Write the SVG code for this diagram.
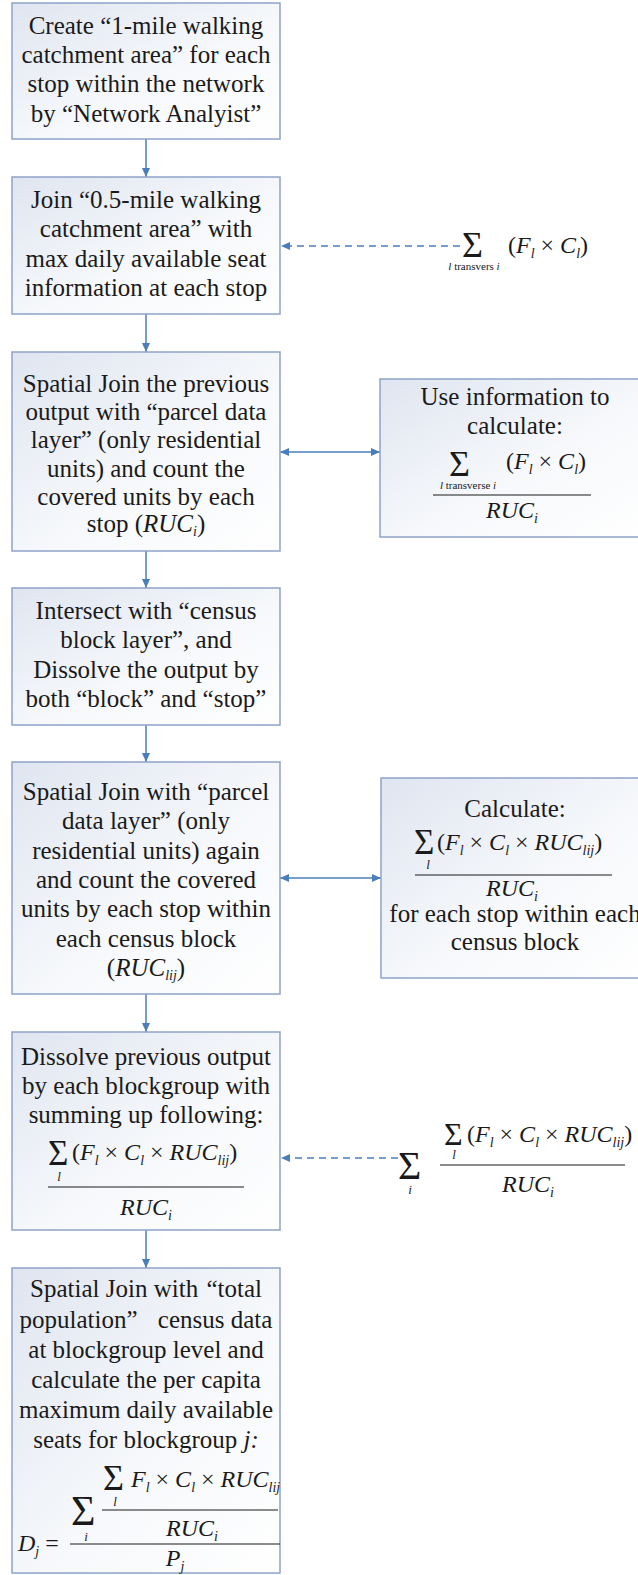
<svg xmlns="http://www.w3.org/2000/svg" width="638" height="1575" viewBox="0 0 638 1575">
  <defs>
    <linearGradient id="boxFill" x1="0" y1="0" x2="1" y2="1">
      <stop offset="0" stop-color="#dfe5f0"/>
      <stop offset="0.55" stop-color="#f6f8fb"/>
      <stop offset="1" stop-color="#ffffff"/>
    </linearGradient>
    <marker id="head" markerWidth="10" markerHeight="10" refX="9" refY="5" orient="auto-start-reverse" markerUnits="userSpaceOnUse">
      <path d="M0,1 L9,5 L0,9 Z" fill="#4a7ebb"/>
    </marker>
    <style>
      .box { fill: url(#boxFill); stroke: #8ea3c7; stroke-width: 1.5; }
      text { font-family: 'Liberation Serif', 'Times New Roman', serif; fill: #1a1a1a; }
      .t { font-size: 25px; text-anchor: middle; }
      .m { font-size: 24px; }
      .i { font-style: italic; }
      .s { font-size: 14px; font-style: italic; }
      .u { font-size: 13px; font-style: italic; text-anchor: middle; }
      .lim { font-size: 11px; text-anchor: middle; }
      .bar { stroke: #1a1a1a; stroke-width: 1.2; }
      .c { stroke: #4a7ebb; stroke-width: 1.5; fill: none; }
      .d { stroke-dasharray: 7 5; }
    </style>
  </defs>

  <!-- flow connectors -->
  <g id="connectors">
    <line class="c" x1="146" y1="139" x2="146" y2="177" marker-end="url(#head)"/>
    <line class="c" x1="146" y1="314" x2="146" y2="352" marker-end="url(#head)"/>
    <line class="c" x1="146" y1="551" x2="146" y2="588" marker-end="url(#head)"/>
    <line class="c" x1="146" y1="725" x2="146" y2="762" marker-end="url(#head)"/>
    <line class="c" x1="146" y1="994" x2="146" y2="1032" marker-end="url(#head)"/>
    <line class="c" x1="146" y1="1230" x2="146" y2="1268" marker-end="url(#head)"/>
    <line class="c" x1="280" y1="452" x2="380" y2="452" marker-start="url(#head)" marker-end="url(#head)"/>
    <line class="c" x1="280" y1="878" x2="381" y2="878" marker-start="url(#head)" marker-end="url(#head)"/>
    <line class="c d" x1="460" y1="246" x2="281" y2="246" marker-end="url(#head)"/>
    <line class="c d" x1="398" y1="1158" x2="281" y2="1158" marker-end="url(#head)"/>
  </g>

  <!-- step 1 -->
  <g id="step1">
    <rect class="box" x="12" y="3" width="268" height="136"/>
    <text class="t" x="146" y="34">Create “1-mile walking</text>
    <text class="t" x="146" y="63">catchment area” for each</text>
    <text class="t" x="146" y="92">stop within the network</text>
    <text class="t" x="146" y="122">by “Network Analyist”</text>
  </g>

  <!-- step 2 -->
  <g id="step2">
    <rect class="box" x="12" y="177" width="268" height="137"/>
    <text class="t" x="146" y="208">Join “0.5-mile walking</text>
    <text class="t" x="146" y="237">catchment area” with</text>
    <text class="t" x="146" y="267">max daily available seat</text>
    <text class="t" x="146" y="296">information at each stop</text>
  </g>

  <!-- seats summed over lines through stop i -->
  <g id="seatSum">
    <text x="462" y="257" font-size="36">Σ</text>
    <text class="m" x="508" y="253">(<tspan class="i">F</tspan><tspan class="s" dy="5">l</tspan><tspan dy="-5"> × </tspan><tspan class="i">C</tspan><tspan class="s" dy="5">l</tspan><tspan dy="-5">)</tspan></text>
    <text class="lim" x="474" y="270"><tspan class="i">l</tspan> transvers <tspan class="i">i</tspan></text>
  </g>

  <!-- step 3 -->
  <g id="step3">
    <rect class="box" x="12" y="352" width="268" height="199"/>
    <text class="t" x="146" y="392">Spatial Join the previous</text>
    <text class="t" x="146" y="420">output with “parcel data</text>
    <text class="t" x="146" y="448">layer” (only residential</text>
    <text class="t" x="146" y="477">units) and count the</text>
    <text class="t" x="146" y="505">covered units by each</text>
    <text class="t" x="146" y="532">stop (<tspan class="i">RUC</tspan><tspan class="s" dy="4">i</tspan><tspan dy="-4">)</tspan></text>
  </g>

  <!-- seats per residential unit at each stop -->
  <g id="seatsPerUnit">
    <rect class="box" x="380" y="379" width="264" height="158"/>
    <text class="t" x="515" y="405">Use information to</text>
    <text class="t" x="515" y="434">calculate:</text>
    <text x="449" y="476" font-size="36">Σ</text>
    <text class="m" x="506" y="469">(<tspan class="i">F</tspan><tspan class="s" dy="5">l</tspan><tspan dy="-5"> × </tspan><tspan class="i">C</tspan><tspan class="s" dy="5">l</tspan><tspan dy="-5">)</tspan></text>
    <text class="lim" x="468" y="489"><tspan class="i">l</tspan> transverse <tspan class="i">i</tspan></text>
    <line class="bar" x1="433" y1="495" x2="591" y2="495"/>
    <text class="m" x="512" y="518" text-anchor="middle"><tspan class="i">RUC</tspan><tspan class="s" dy="5">i</tspan></text>
  </g>

  <!-- step 4 -->
  <g id="step4">
    <rect class="box" x="12" y="588" width="268" height="137"/>
    <text class="t" x="146" y="619">Intersect with “census</text>
    <text class="t" x="146" y="648">block layer”, and</text>
    <text class="t" x="146" y="678">Dissolve the output by</text>
    <text class="t" x="146" y="707">both “block” and “stop”</text>
  </g>

  <!-- step 5 -->
  <g id="step5">
    <rect class="box" x="12" y="762" width="268" height="232"/>
    <text class="t" x="146" y="800">Spatial Join with “parcel</text>
    <text class="t" x="146" y="829">data layer” (only</text>
    <text class="t" x="146" y="859">residential units) again</text>
    <text class="t" x="146" y="888">and count the covered</text>
    <text class="t" x="146" y="917">units by each stop within</text>
    <text class="t" x="146" y="947">each census block</text>
    <text class="t" x="146" y="976">(<tspan class="i">RUC</tspan><tspan class="s" dy="4">lij</tspan><tspan dy="-4">)</tspan></text>
  </g>

  <!-- weighted seats per stop within each block -->
  <g id="blockCalc">
    <rect class="box" x="381" y="778" width="264" height="200"/>
    <text class="t" x="515" y="817">Calculate:</text>
    <text x="414" y="854" font-size="35">Σ</text>
    <text class="m" x="437" y="850">(<tspan class="i">F</tspan><tspan class="s" dy="5">l</tspan><tspan dy="-5"> × </tspan><tspan class="i">C</tspan><tspan class="s" dy="5">l</tspan><tspan dy="-5"> × </tspan><tspan class="i">RUC</tspan><tspan class="s" dy="5">lij</tspan><tspan dy="-5">)</tspan></text>
    <text class="u" x="428" y="869">l</text>
    <line class="bar" x1="415" y1="875" x2="612" y2="875"/>
    <text class="m" x="512" y="896" text-anchor="middle"><tspan class="i">RUC</tspan><tspan class="s" dy="5">i</tspan></text>
    <text class="t" x="515" y="922">for each stop within each</text>
    <text class="t" x="515" y="950">census block</text>
  </g>

  <!-- step 6 -->
  <g id="step6">
    <rect class="box" x="12" y="1032" width="268" height="198"/>
    <text class="t" x="146" y="1065">Dissolve previous output</text>
    <text class="t" x="146" y="1094">by each blockgroup with</text>
    <text class="t" x="146" y="1123">summing up following:</text>
    <text x="48" y="1165" font-size="35">Σ</text>
    <text class="m" x="72" y="1160">(<tspan class="i">F</tspan><tspan class="s" dy="5">l</tspan><tspan dy="-5"> × </tspan><tspan class="i">C</tspan><tspan class="s" dy="5">l</tspan><tspan dy="-5"> × </tspan><tspan class="i">RUC</tspan><tspan class="s" dy="5">lij</tspan><tspan dy="-5">)</tspan></text>
    <text class="u" x="59" y="1181">l</text>
    <line class="bar" x1="48" y1="1187" x2="244" y2="1187"/>
    <text class="m" x="146" y="1215" text-anchor="middle"><tspan class="i">RUC</tspan><tspan class="s" dy="5">i</tspan></text>
  </g>

  <!-- sum over stops -->
  <g id="stopSum">
    <text x="398" y="1179" font-size="40">Σ</text>
    <text class="u" x="410" y="1194">i</text>
    <text x="444" y="1145" font-size="32">Σ</text>
    <text class="m" x="467" y="1142">(<tspan class="i">F</tspan><tspan class="s" dy="5">l</tspan><tspan dy="-5"> × </tspan><tspan class="i">C</tspan><tspan class="s" dy="5">l</tspan><tspan dy="-5"> × </tspan><tspan class="i">RUC</tspan><tspan class="s" dy="5">lij</tspan><tspan dy="-5">)</tspan></text>
    <text class="u" x="454" y="1159" font-size="12">l</text>
    <line class="bar" x1="440" y1="1165" x2="625" y2="1165"/>
    <text class="m" x="528" y="1192" text-anchor="middle"><tspan class="i">RUC</tspan><tspan class="s" dy="5">i</tspan></text>
  </g>

  <!-- step 7 -->
  <g id="step7">
    <rect class="box" x="12" y="1268" width="268" height="305"/>
    <text class="t" x="146" y="1297">Spatial Join with<tspan dx="2"> “total</tspan></text>
    <text class="t" x="146" y="1328">population”<tspan dx="14"> census data</tspan></text>
    <text class="t" x="146" y="1358">at blockgroup level and</text>
    <text class="t" x="146" y="1388">calculate the per capita</text>
    <text class="t" x="146" y="1418">maximum daily available</text>
    <text class="t" x="146" y="1448">seats for blockgroup <tspan class="i">j:</tspan></text>
    <text class="m" x="18" y="1551" font-size="26"><tspan class="i">D</tspan><tspan class="s" dy="5">j</tspan><tspan dy="-5"> =</tspan></text>
    <text x="71" y="1525" font-size="42">Σ</text>
    <text class="u" x="86" y="1541">i</text>
    <text x="103" y="1490" font-size="36">Σ</text>
    <text class="u" x="115" y="1506">l</text>
    <text class="m" x="131" y="1487"><tspan class="i">F</tspan><tspan class="s" dy="5">l</tspan><tspan dy="-5"> × </tspan><tspan class="i">C</tspan><tspan class="s" dy="5">l</tspan><tspan dy="-5"> × </tspan><tspan class="i">RUC</tspan><tspan class="s" dy="5">lij</tspan></text>
    <line class="bar" x1="102" y1="1510" x2="278" y2="1510"/>
    <text class="m" x="192" y="1536" text-anchor="middle"><tspan class="i">RUC</tspan><tspan class="s" dy="5">i</tspan></text>
    <line class="bar" x1="70" y1="1544" x2="280" y2="1544"/>
    <text class="m" x="175" y="1566" text-anchor="middle"><tspan class="i">P</tspan><tspan class="s" dy="5">j</tspan></text>
  </g>
</svg>
